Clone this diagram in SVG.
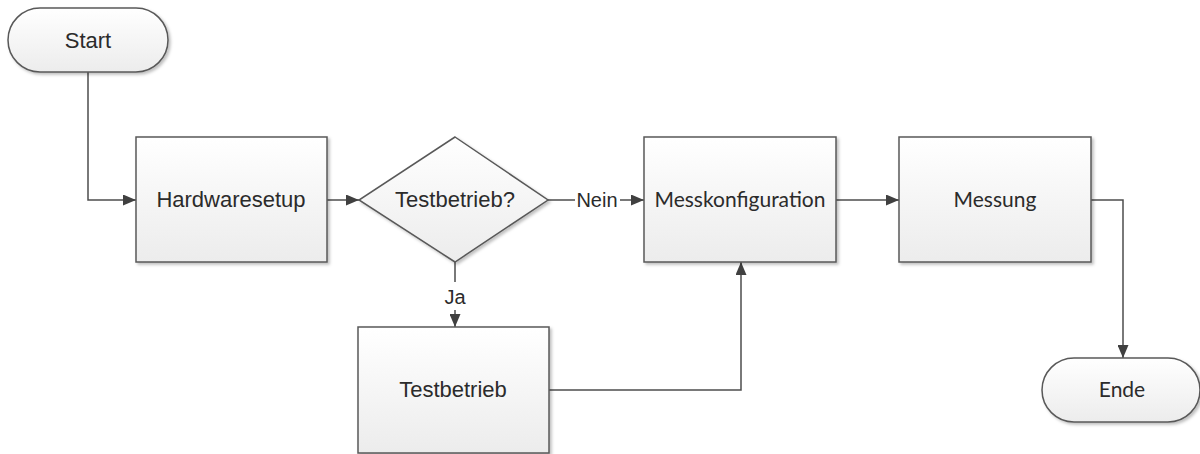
<svg xmlns="http://www.w3.org/2000/svg" width="1200" height="454" viewBox="0 0 1200 454">
<style>
.shape{fill:url(#g);stroke:#595959;stroke-width:1.5;filter:url(#sh)}
.arial{font-family:"Liberation Sans",Arial,sans-serif;font-size:22px;fill:#2b2b2b;text-anchor:middle}
.cal{font-family:Lato,"Open Sans",sans-serif;font-size:21px;fill:#2b2b2b;text-anchor:middle}
.conn{fill:none;stroke:#4d4d4d;stroke-width:1.5}
.lbl{font-family:"Liberation Sans",Arial,sans-serif;font-size:20px;fill:#2b2b2b;text-anchor:middle}
</style>
<defs>
<linearGradient id="g" x1="0" y1="0" x2="0" y2="1">
<stop offset="0" stop-color="#ffffff"/>
<stop offset="1" stop-color="#ececec"/>
</linearGradient>
<filter id="sh" x="-10%" y="-10%" width="120%" height="130%">
<feDropShadow dx="2" dy="2" stdDeviation="1.5" flood-color="#000" flood-opacity="0.25"/>
</filter>
<marker id="arr" viewBox="0 0 13 11" refX="13" refY="5.5" markerWidth="13" markerHeight="11" markerUnits="userSpaceOnUse" orient="auto">
<path d="M0,0 L13,5.5 L0,11 z" fill="#404040"/>
</marker>
</defs>
<rect width="1200" height="454" fill="#ffffff"/>
<g id="connectors">
<path class="conn" d="M88,72 V200 H136" marker-end="url(#arr)"/>
<path class="conn" d="M327,200 H359" marker-end="url(#arr)"/>
<path class="conn" d="M548,200 H644" marker-end="url(#arr)"/>
<rect x="575" y="188" width="45" height="24" fill="#fff"/>
<text class="lbl" x="597" y="207">Nein</text>
<path class="conn" d="M455,262 V327" marker-end="url(#arr)"/>
<rect x="442" y="282" width="26" height="28" fill="#fff"/>
<text class="lbl" x="455" y="304">Ja</text>
<path class="conn" d="M549,390 H741 V262" marker-end="url(#arr)"/>
<path class="conn" d="M836,200 H899" marker-end="url(#arr)"/>
<path class="conn" d="M1091,200 H1123 V358" marker-end="url(#arr)"/>
</g>
<g id="start">
<rect class="shape" x="8" y="8" width="160" height="64" rx="32" ry="32"/>
<text class="arial" x="88" y="48">Start</text>
</g>
<g id="hardwaresetup">
<rect class="shape" x="136" y="137" width="191" height="125"/>
<text class="arial" x="231" y="207">Hardwaresetup</text>
</g>
<g id="testbetrieb-frage">
<path class="shape" d="M455,137 L548,200 L455,262 L359,200 z"/>
<text class="arial" x="455" y="207">Testbetrieb?</text>
</g>
<g id="testbetrieb">
<rect class="shape" x="358" y="327" width="191" height="126"/>
<text class="arial" x="453" y="397">Testbetrieb</text>
</g>
<g id="messkonfiguration">
<rect class="shape" x="644" y="137" width="192" height="125"/>
<text class="cal" x="740" y="207">Messkonfiguration</text>
</g>
<g id="messung">
<rect class="shape" x="899" y="137" width="192" height="125"/>
<text class="cal" x="995" y="207">Messung</text>
</g>
<g id="ende">
<rect class="shape" x="1042" y="358" width="158" height="64" rx="32" ry="32"/>
<text class="cal" x="1122" y="397">Ende</text>
</g>
</svg>
